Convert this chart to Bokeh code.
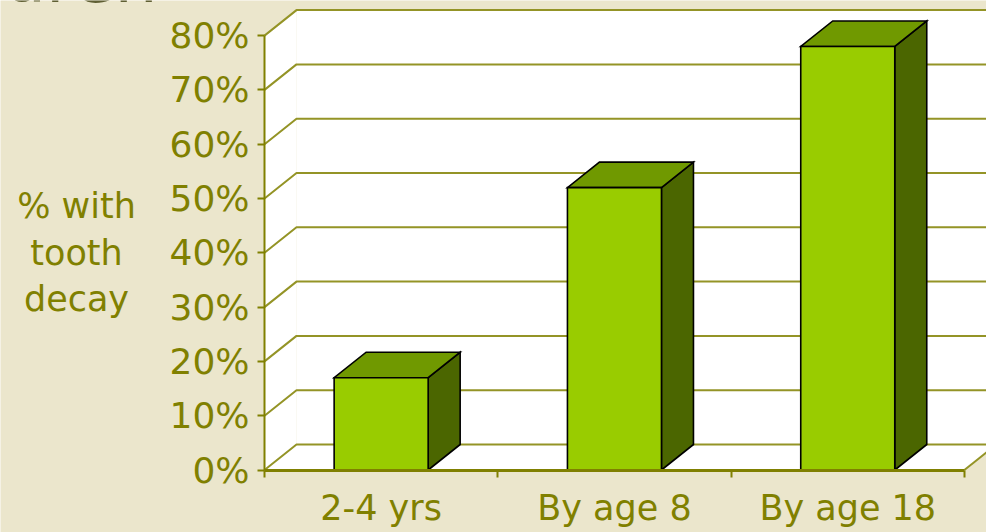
from bokeh.plotting import figure
from bokeh.models import FixedTicker, PrintfTickFormatter, Label, Range1d, LinearAxis
from bokeh.embed import file_html
from bokeh.resources import INLINE

# ---- data ----
categories = ["2-4 yrs", "By age 8", "By age 18"]
values = [17, 52, 78]
y_ticks = [0, 10, 20, 30, 40, 50, 60, 70, 80]
y_label = "% with\ntooth\ndecay"
title_text = "Children"

# ---- style ----
BG = "#EBE6CC"
OLIVE = "#808000"
GRID = "#949426"
FRONT = "#99CC00"
TOP = "#709900"
SIDE = "#4B6600"
FONT = "DejaVu Sans"

W, H = 986, 532
origin_x, origin_y = 264, 469.5          # pixel position of (0, 0%)
px_per_cat = 233.3
px_per_pct = 5.43

dx = 32 / px_per_cat
dy = 25.5 / px_per_pct
ymax = y_ticks[-1]
ncat = len(categories)
bar_half = 0.2015

x_range = Range1d(-origin_x / px_per_cat, (W - origin_x) / px_per_cat)
y_range = Range1d(-(H - origin_y) / px_per_pct, origin_y / px_per_pct)

p = figure(width=W, height=H, output_backend="svg", toolbar_location=None,
           x_range=x_range, y_range=y_range,
           x_axis_location=None, y_axis_location=None,
           min_border=0)
p.background_fill_color = BG
p.border_fill_color = BG
p.outline_line_color = None
p.xgrid.visible = False
p.ygrid.visible = False

# walls and floor
far = ncat + dx + 0.5
p.patch([dx, far, far, dx], [dy, dy, ymax + dy, ymax + dy], fill_color="white", line_color=None)
p.patch([0, dx, dx, 0], [0, dy, ymax + dy, ymax], fill_color="white", line_color=None)
p.patch([0, ncat, ncat + dx, dx], [0, 0, dy, dy], fill_color="white", line_color=None)

# gridlines on side + back wall
xs_g, ys_g = [], []
for v in y_ticks:
    xs_g.append([0, dx, ncat + dx])
    ys_g.append([v, v + dy, v + dy])
xs_g.append([ncat, ncat + dx]); ys_g.append([0, dy])
xs_g.append([ncat + dx, ncat + dx]); ys_g.append([dy, ymax + dy])
p.multi_line(xs_g, ys_g, line_color=GRID, line_width=2)

# bars
fx, fy, tx, ty, sx, sy = [], [], [], [], [], []
for i, v in enumerate(values):
    x0 = i + 0.5 - bar_half
    x1 = i + 0.5 + bar_half
    fx.append([x0, x1, x1, x0]); fy.append([0, 0, v, v])
    tx.append([x0, x1, x1 + dx, x0 + dx]); ty.append([v, v, v + dy, v + dy])
    sx.append([x1, x1 + dx, x1 + dx, x1]); sy.append([0, dy, v + dy, v])
p.patches(sx, sy, fill_color=SIDE, line_color="black", line_width=1.6, line_join="miter")
p.patches(tx, ty, fill_color=TOP, line_color="black", line_width=1.6, line_join="miter")
p.patches(fx, fy, fill_color=FRONT, line_color="black", line_width=1.6, line_join="miter")

# y axis, pinned at x = 0
ya = LinearAxis(fixed_location=0)
ya.ticker = FixedTicker(ticks=y_ticks, minor_ticks=[])
ya.formatter = PrintfTickFormatter(format="%d%%")
ya.bounds = (0, ymax)
ya.axis_line_color = OLIVE
ya.axis_line_width = 2
ya.major_tick_line_color = OLIVE
ya.major_tick_line_width = 2
ya.major_tick_out = 7
ya.major_tick_in = 0
ya.major_label_standoff = 8
ya.major_label_text_font = FONT
ya.major_label_text_font_size = "36px"
ya.major_label_text_color = OLIVE
p.add_layout(ya, "left")

# x axis, pinned at y = 0
xa = LinearAxis(fixed_location=0)
centers = [i + 0.5 for i in range(ncat)]
xa.ticker = FixedTicker(ticks=centers, minor_ticks=list(range(ncat + 1)))
xa.major_label_overrides = {c: lab for c, lab in zip(centers, categories)}
xa.bounds = (0, ncat)
xa.axis_line_color = OLIVE
xa.axis_line_width = 3
xa.major_tick_line_color = None
xa.major_tick_out = 7
xa.minor_tick_line_color = OLIVE
xa.minor_tick_line_width = 2
xa.minor_tick_out = 7
xa.minor_tick_in = 0
xa.major_label_standoff = 11
xa.major_label_text_font = FONT
xa.major_label_text_font_size = "35px"
xa.major_label_text_color = OLIVE
p.add_layout(xa, "below")

# y axis title, centred on the 0-80% span
p.add_layout(Label(x=-188 / px_per_cat, y=ymax / 2, text=y_label,
                   text_font=FONT, text_font_size="35px", text_color=OLIVE,
                   text_align="center", text_baseline="middle", text_line_height=1.16))

# slide title, mostly above the visible page
p.add_layout(Label(x=-107 / px_per_cat, y=(origin_y + 22) / px_per_pct, text=title_text,
                   text_font=FONT, text_font_size="68px", text_color="#5F5F33",
                   text_baseline="alphabetic", text_align="right"))

open("out.html", "w").write(file_html(p, INLINE))
